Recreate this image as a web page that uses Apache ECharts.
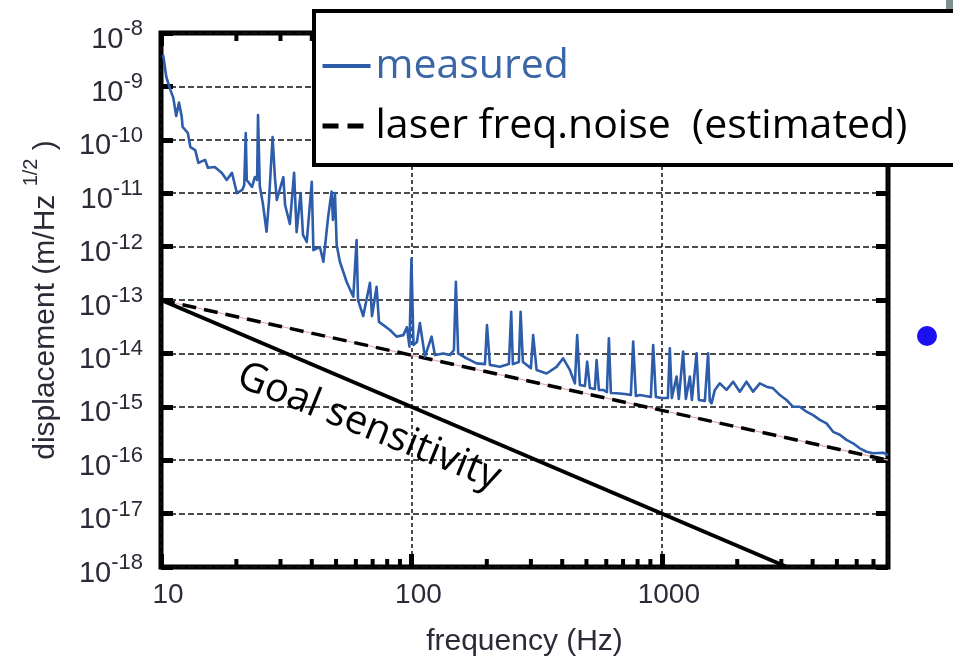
<!DOCTYPE html>
<html>
<head>
<meta charset="utf-8">
<style>
  html, body { margin: 0; padding: 0; background: #fff; }
  #chart { width: 953px; height: 660px; }
</style>
<script src="https://cdn.jsdelivr.net/npm/echarts@6.0.0/dist/echarts.min.js"></script>
</head>
<body>
<div id="chart"></div>
<script>
// measured displacement spectrum
const measuredFreq = [
  10.2, 10.5, 10.9, 11.2, 11.5, 11.8, 12.1, 12.2, 12.8, 13.1,
  13.7, 14.1, 15.0, 15.4, 16.4, 17.5, 18.3, 19.2, 20.1, 21.1,
  21.5, 21.8, 22.0, 23.1, 23.7, 24.2, 24.4, 24.8, 25.5, 26.4,
  27.0, 27.9, 28.5, 29.0, 30.8, 31.3, 32.7, 34.0, 34.8, 36.1,
  36.9, 38.2, 40.0, 40.6, 43.1, 44.5, 46.5, 48.0, 48.6, 49.5,
  50.3, 51.8, 55.1, 58.6, 60.4, 61.2, 64.2, 68.3, 69.6, 72.6,
  74.2, 82.1, 87.3, 92.8, 95.9, 98.2, 100, 101.9, 105.2, 108.1,
  113.2, 120.4, 124.1, 134, 142.5, 147.8, 150.5, 153.7, 166.1, 182.1,
  196.6, 200.3, 205.8, 225.6, 245, 250.3, 254.2, 268.6, 272.9, 278.7,
  299.9, 306.3, 316.1, 346.6, 379.8, 403.6, 429.2, 449.5, 459.1, 470.6,
  492.8, 503.3, 516, 540.2, 548.8, 560.5, 583.2, 603.3, 614.5, 625.9,
  659.5, 711.9, 752.2, 768.3, 787.6, 817.1, 903.9, 923.3, 946.3, 1000,
  1057, 1076, 1096, 1145, 1169, 1216, 1247, 1294, 1318, 1376,
  1405, 1485, 1530, 1554, 1579, 1628, 1704, 1813, 1926, 2048,
  2178, 2314, 2462, 2618, 2782, 2959, 3147, 3344, 3556, 3781,
  4018, 4273, 4545, 4830, 5136, 5462, 5803, 6171, 6564, 6973,
  7645, 8000
];
const measuredDisp = [
  3.9e-9, 1.5e-9, 8.6e-10, 6.1e-10, 2.8e-10, 5.0e-10, 2.7e-10, 1.74e-10, 1.34e-10, 7.3e-11,
  6.4e-11, 3.7e-11, 4.2e-11, 3.0e-11, 3.1e-11, 2.4e-11, 1.77e-11, 2.4e-11, 1.0e-11, 1.15e-11,
  1.43e-11, 1.34e-10, 1.77e-11, 1.31e-11, 2.0e-11, 1.77e-11, 2.9e-10, 1.36e-11, 6.5e-12, 1.9e-12,
  7.5e-12, 1.13e-10, 2.0e-11, 7.5e-12, 2.0e-11, 6.0e-12, 2.65e-12, 2.4e-11, 1.87e-12, 1.01e-11,
  1.65e-12, 1.22e-12, 1.64e-11, 8.6e-13, 9.8e-13, 5.2e-13, 3.6e-12, 1.07e-11, 3.15e-12, 1.01e-11,
  1.07e-12, 5.2e-13, 2.2e-13, 1.15e-13, 1.33e-12, 1.0e-13, 5.0e-14, 2.1e-13, 5.0e-14, 1.77e-13,
  3.9e-14, 2.74e-14, 2.06e-14, 2.2e-14, 3.1e-14, 1.34e-14, 5.9e-13, 1.44e-14, 1.63e-14, 3.7e-14,
  8.7e-15, 2.06e-14, 9.3e-15, 1.0e-14, 9.3e-15, 1.16e-14, 2.2e-13, 1.0e-14, 8.1e-15, 6.5e-15,
  6.3e-15, 3.4e-14, 6.1e-15, 5.6e-15, 6.3e-15, 6.0e-14, 6.3e-15, 6.9e-15, 6.0e-14, 6.9e-15,
  5.3e-15, 2.2e-14, 4.9e-15, 4.2e-15, 5.6e-15, 8.1e-15, 4.9e-15, 2.75e-15, 2.2e-14, 2.56e-15,
  2.45e-15, 7.0e-15, 2.25e-15, 2.15e-15, 7.5e-15, 2.07e-15, 2.07e-15, 1.89e-15, 1.92e-14, 1.81e-15,
  1.79e-15, 1.74e-15, 1.66e-15, 1.66e-14, 1.59e-15, 1.66e-15, 1.53e-15, 1.44e-14, 1.53e-15, 1.46e-15,
  1.46e-15, 1.25e-14, 1.46e-15, 3.7e-15, 1.40e-15, 1.08e-14, 1.40e-15, 3.7e-15, 1.34e-15, 1.0e-14,
  1.34e-15, 1.29e-15, 1.0e-14, 1.29e-15, 1.16e-15, 2.07e-15, 2.75e-15, 2.07e-15, 2.95e-15, 1.92e-15,
  2.95e-15, 1.92e-15, 2.75e-15, 2.38e-15, 2.22e-15, 1.66e-15, 1.34e-15, 1.0e-15, 1.0e-15, 8.1e-16,
  7.0e-16, 5.7e-16, 4.9e-16, 3.4e-16, 3.0e-16, 2.4e-16, 2.07e-16, 1.67e-16, 1.44e-16, 1.35e-16,
  1.38e-16, 1.25e-16
];

// laser frequency noise (estimated), straight line on log-log
const laserFreq = [10, 8000];
const laserDisp = [1e-13, 1e-16];

// goal sensitivity line
const goalFreq = [10, 3162];
const goalDisp = [1e-13, 1e-18];
const goalLabelAt = [67.6, 4.2e-16];

// axis ticks
const xLabelTicks = [10, 100, 1000];
const xMinorTicks = [20, 30, 40, 50, 60, 70, 80, 90,
  200, 300, 400, 500, 600, 700, 800, 900,
  2000, 3000, 4000, 5000, 6000, 7000];

const blue = '#2c5caa';
const textCol = '#2b2b38';
const noDot = { color: 'rgba(0,0,0,0)', borderWidth: 0 };

function decade(v) {
  const e = Math.log10(v);
  const r = Math.round(e);
  return Math.abs(e - r) < 1e-6 ? r : null;
}

const chart = echarts.init(document.getElementById('chart'));

const option = {
  animation: false,
  backgroundColor: '#fff',
  grid: {
    left: 161, right: 65, top: 33, bottom: 93,
    show: true, borderColor: '#000', borderWidth: 5,
    backgroundColor: 'transparent',
    containLabel: false, outerBoundsMode: 'none'
  },
  legend: {
    orient: 'vertical',
    left: 314, top: 11,
    padding: [32, 90, 16, 6],
    itemWidth: 48, itemHeight: 14, itemGap: 14,
    backgroundColor: '#fff', borderColor: '#000', borderWidth: 4,
    selectedMode: false,
    textStyle: { fontFamily: 'Open Sans', fontSize: 41, lineHeight: 46 },
    data: [
      { name: 'measured', textStyle: { color: '#3b66a6' },
        itemStyle: noDot, lineStyle: { width: 4, color: blue } },
      { name: 'laser freq.noise  (estimated)', textStyle: { color: '#000' },
        itemStyle: noDot, lineStyle: { width: 5, color: '#000', type: [16, 9] } }
    ]
  },
  xAxis: [
    {
      type: 'log', logBase: 10, min: 10, max: 8000, splitNumber: 3,
      position: 'bottom',
      axisLine: { show: false },
      axisTick: { show: true, inside: true, length: 13, lineStyle: { color: '#000', width: 5 } },
      axisLabel: {
        margin: 14, fontSize: 28, color: textCol, fontFamily: 'Liberation Sans',
        padding: [0, 0, 0, 14],
        showMaxLabel: false,
        formatter: v => {
          const hit = xLabelTicks.find(t => Math.abs(t - v) / t < 1e-6);
          return hit ? String(hit) : '';
        }
      },
      splitLine: { show: true, lineStyle: { color: '#111', width: 1.5, type: [4, 3] } },
      name: 'frequency (Hz)', nameLocation: 'middle', nameGap: 60,
      nameTextStyle: { fontSize: 30, color: textCol, fontFamily: 'Liberation Sans' }
    },
    {
      type: 'log', logBase: 10, min: 10, max: 8000, splitNumber: 3,
      position: 'top',
      axisLine: { show: false },
      axisTick: { show: true, inside: true, length: 13, lineStyle: { color: '#000', width: 5 } },
      axisLabel: { show: false },
      splitLine: { show: false }
    }
  ],
  yAxis: [
    {
      type: 'log', logBase: 10, min: 1e-18, max: 1e-8, splitNumber: 10,
      position: 'left',
      axisLine: { show: false },
      axisTick: { show: true, inside: true, length: 12, lineStyle: { color: '#000', width: 5 } },
      axisLabel: {
        margin: 18, padding: [6, 0, 0, 0],
        formatter: v => {
          const r = decade(v);
          return r === null ? '' : '{b|10}{s|' + r + '}';
        },
        rich: {
          b: { fontSize: 29, lineHeight: 36, verticalAlign: 'bottom', color: textCol, fontFamily: 'Liberation Sans' },
          s: { fontSize: 22, lineHeight: 22, verticalAlign: 'top', color: textCol, fontFamily: 'Liberation Sans' }
        }
      },
      splitLine: { show: true, lineStyle: { color: '#111', width: 1.5, type: [6, 3] } },
      name: '{t|displacement (m/Hz }{s|1/2}{t| )}',
      nameLocation: 'middle', nameGap: 100, nameRotate: 90,
      nameTextStyle: {
        rich: {
          t: { fontSize: 30, lineHeight: 40, verticalAlign: 'bottom', color: textCol, fontFamily: 'Liberation Sans' },
          s: { fontSize: 20, lineHeight: 22, verticalAlign: 'top', color: textCol, fontFamily: 'Liberation Sans' }
        }
      }
    },
    {
      type: 'log', logBase: 10, min: 1e-18, max: 1e-8, splitNumber: 10,
      position: 'right',
      axisLine: { show: false },
      axisTick: { show: true, inside: true, length: 12, lineStyle: { color: '#000', width: 5 } },
      axisLabel: { show: false },
      splitLine: { show: false }
    }
  ],
  series: [
    {
      name: 'Goal sensitivity', type: 'line', symbol: 'none', silent: true,
      data: goalFreq.map((f, i) => [f, goalDisp[i]]),
      lineStyle: { color: '#000', width: 4 }, itemStyle: { color: '#000' },
      markPoint: {
        symbol: 'circle', symbolSize: 1, itemStyle: { color: 'rgba(0,0,0,0)' },
        data: [{
          coord: goalLabelAt,
          label: {
            show: true, position: 'inside', formatter: 'Goal sensitivity',
            rotate: -22, fontSize: 40, fontFamily: 'Open Sans', color: '#000'
          }
        }]
      }
    },
    {
      name: 'laser guide', type: 'line', symbol: 'none', silent: true,
      data: laserFreq.map((f, i) => [f, laserDisp[i]]),
      lineStyle: { color: '#e2a9a9', width: 1.2 }
    },
    {
      name: 'laser freq.noise  (estimated)', type: 'line', symbol: 'none', silent: true,
      data: laserFreq.map((f, i) => [f, laserDisp[i]]),
      lineStyle: { color: '#000', width: 3.5, type: [14, 8] }, itemStyle: { color: '#000' }
    },
    {
      name: 'measured', type: 'line', symbol: 'none', silent: true,
      data: measuredFreq.map((f, i) => [f, measuredDisp[i]]),
      lineStyle: { color: blue, width: 2.6, join: 'round' }, itemStyle: { color: blue }
    },
    {
      // log minor ticks at 2..9 x decade, top and bottom
      name: 'minor ticks', type: 'custom', silent: true,
      data: xMinorTicks.map(f => [f, 1e-18]),
      renderItem: (params, api) => {
        const f = api.value(0);
        const pb = api.coord([f, 1e-18]);
        const pt = api.coord([f, 1e-8]);
        const st = { stroke: '#000', lineWidth: 4 };
        return {
          type: 'group',
          children: [
            { type: 'line', shape: { x1: pb[0], y1: pb[1], x2: pb[0], y2: pb[1] - 8 }, style: st },
            { type: 'line', shape: { x1: pt[0], y1: pt[1], x2: pt[0], y2: pt[1] + 8 }, style: st }
          ]
        };
      }
    }
  ],
  graphic: [
    { type: 'circle', shape: { cx: 927, cy: 336, r: 10 }, style: { fill: '#1a10f0' } },
    { type: 'rect', shape: { x: 946, y: 0, width: 7, height: 9 }, style: { fill: '#7d8f8f' } }
  ]
};

chart.setOption(option);
</script>
</body>
</html>
